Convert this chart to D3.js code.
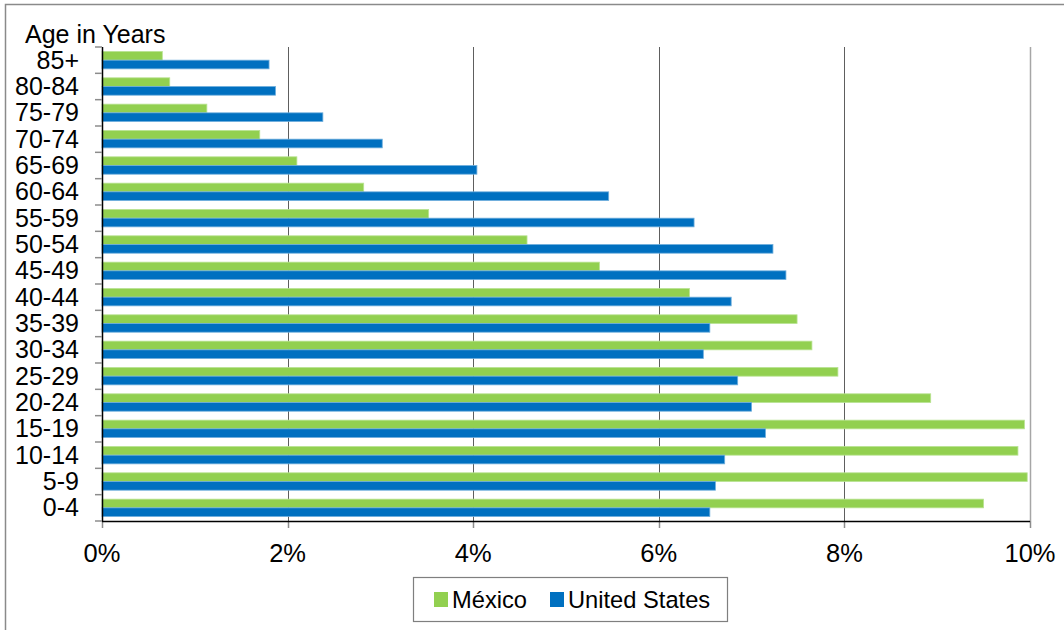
<!DOCTYPE html>
<html>
<head>
<meta charset="utf-8">
<script src="https://cdn.jsdelivr.net/npm/d3@7"></script>
<style>
  html, body { margin: 0; padding: 0; background: #fff; }
  svg { display: block; font-family: "Liberation Sans", Arial, sans-serif; }
</style>
</head>
<body>
<svg id="chart" width="1064" height="630"></svg>
<script>
// Data (top to bottom as in the chart)
const ageGroups = ["85+", "80-84", "75-79", "70-74", "65-69", "60-64", "55-59", "50-54", "45-49",
                   "40-44", "35-39", "30-34", "25-29", "20-24", "15-19", "10-14", "5-9", "0-4"];
const mexico = [0.65, 0.73, 1.13, 1.70, 2.10, 2.82, 3.52, 4.58, 5.36,
                6.33, 7.49, 7.65, 7.93, 8.93, 9.94, 9.87, 9.97, 9.50];
const unitedStates = [1.80, 1.87, 2.38, 3.02, 4.04, 5.46, 6.38, 7.23, 7.37,
                      6.78, 6.55, 6.48, 6.85, 7.00, 7.15, 6.71, 6.61, 6.55];
const seriesNames = ["México", "United States"];
const xTicks = [0, 2, 4, 6, 8, 10];

const colors = { "México": "#92D050", "United States": "#0070C0" };
const strokes = { "México": "#B9E393", "United States": "#6FAEDC" };

const svg = d3.select("#chart");
const W = 1064, H = 630;

// outer border
svg.append("rect").attr("x", 5.5).attr("y", 4.5).attr("width", W + 10).attr("height", H + 10)
  .attr("fill", "none").attr("stroke", "#8a8a8a").attr("stroke-width", 1.5);

const pLeft = 102, pRight = 1030, pTop = 47, pBottom = 521;

const x = d3.scaleLinear().domain([0, 10]).range([pLeft, pRight]);
const y = d3.scaleBand().domain(ageGroups).range([pTop, pBottom]).paddingInner(0.34).paddingOuter(0.17);
const ySub = d3.scaleBand().domain(seriesNames).range([0, y.bandwidth()]);

// gridlines
svg.append("g").selectAll("line").data(xTicks.filter(d => d > 0)).join("line")
  .attr("x1", d => Math.round(x(d)) + 0.5).attr("x2", d => Math.round(x(d)) + 0.5)
  .attr("y1", pTop).attr("y2", pBottom)
  .attr("stroke", d => d === 10 ? "#a6a6a6" : "#5e5e5e").attr("stroke-width", d => d === 10 ? 1.5 : 1);

// bars
const rows = ageGroups.map((g, i) => ({ g, vals: [ { s: "México", v: mexico[i] }, { s: "United States", v: unitedStates[i] } ] }));
const grp = svg.append("g").selectAll("g").data(rows).join("g")
  .attr("transform", d => `translate(0,${y(d.g)})`);
grp.selectAll("rect").data(d => d.vals).join("rect")
  .attr("x", x(0))
  .attr("y", d => ySub(d.s))
  .attr("width", d => x(d.v) - x(0))
  .attr("height", ySub.bandwidth())
  .attr("fill", d => colors[d.s])
  .attr("stroke", d => strokes[d.s])
  .attr("stroke-width", 0.8);

// y axis
const yAxis = svg.append("g").attr("transform", `translate(${pLeft},0)`);
yAxis.append("line").attr("x1", 0.5).attr("x2", 0.5).attr("y1", pTop).attr("y2", pBottom)
  .attr("stroke", "#000").attr("stroke-width", 1.5);
const yTickPos = ageGroups.map(g => y(g) - y.step() * y.paddingInner() / 2).concat([pBottom]);
yAxis.selectAll("line.tk").data(yTickPos).join("line").attr("class", "tk")
  .attr("x1", -7).attr("x2", 0).attr("y1", d => d).attr("y2", d => d)
  .attr("stroke", "#8c8c8c").attr("stroke-width", 1.5);
yAxis.selectAll("text").data(ageGroups).join("text")
  .attr("x", -23).attr("y", d => y(d) + y.bandwidth() / 2 - 0.5)
  .attr("dy", "0.36em").attr("text-anchor", "end")
  .attr("font-size", 25).attr("fill", "#000").text(d => d);

// x axis
const xAxisG = svg.append("g").attr("transform", `translate(0,${pBottom})`);
xAxisG.selectAll("line.tk").data(xTicks).join("line").attr("class", "tk")
  .attr("x1", d => Math.round(x(d)) + 0.5).attr("x2", d => Math.round(x(d)) + 0.5)
  .attr("y1", 0).attr("y2", 7).attr("stroke", "#8c8c8c").attr("stroke-width", 1.5);
xAxisG.append("line").attr("x1", pLeft).attr("x2", pRight).attr("y1", 0.5).attr("y2", 0.5)
  .attr("stroke", "#000").attr("stroke-width", 1.5);
xAxisG.selectAll("text").data(xTicks).join("text")
  .attr("x", d => x(d)).attr("y", 41).attr("text-anchor", "middle")
  .attr("font-size", 25.5).attr("fill", "#000").text(d => d + "%");

// axis title
svg.append("text").attr("x", 25).attr("y", 42.5).attr("font-size", 25).attr("fill", "#000")
  .text("Age in Years");

// legend
const lg = svg.append("g").attr("transform", "translate(413,577)");
lg.append("rect").attr("x", 0.5).attr("y", 0.5).attr("width", 314).attr("height", 44)
  .attr("fill", "#fff").attr("stroke", "#7f7f7f").attr("stroke-width", 1.2);
const legendX = { "México": 21, "United States": 137 };
const li = lg.selectAll("g.item").data(seriesNames).join("g").attr("class", "item")
  .attr("transform", d => `translate(${legendX[d]},0)`);
li.append("rect").attr("x", 0).attr("y", 15).attr("width", 14).attr("height", 15)
  .attr("fill", d => colors[d]);
li.append("text").attr("x", 18).attr("y", 30.5).attr("font-size", 23.7).attr("fill", "#000")
  .text(d => d);
</script>
</body>
</html>
